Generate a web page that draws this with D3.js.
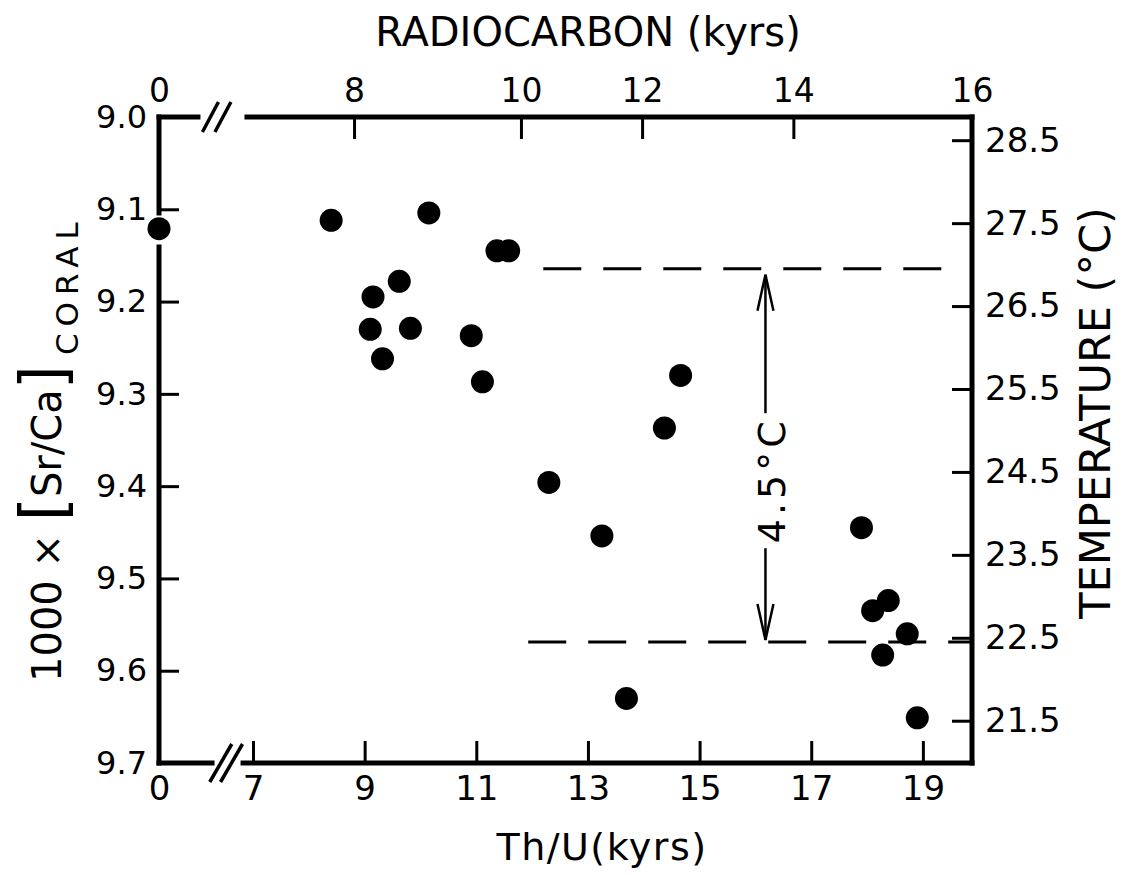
<!DOCTYPE html>
<html>
<head>
<meta charset="utf-8">
<script src="https://cdn.jsdelivr.net/npm/d3@7"></script>
<style>
  body { margin: 0; background: #fff; }
  text { font-family: "DejaVu Sans", sans-serif; fill: #000; }
</style>
</head>
<body>
<script>
// coral Sr/Ca vs age, with temperature scale on the right

// Th/U ages (kyrs) and 1000 x Sr/Ca of each coral sample
var thuAge = [0, 8.40, 10.15, 11.37, 11.58, 9.62, 9.15, 9.10, 9.82, 9.32, 10.91, 11.11,
              14.66, 14.37, 12.30, 13.25, 13.69, 17.90, 18.38, 18.10, 18.72, 18.28, 18.90];
var srCa   = [9.121, 9.112, 9.104, 9.145, 9.145, 9.178, 9.195, 9.230, 9.229, 9.262, 9.237, 9.287,
              9.280, 9.337, 9.396, 9.454, 9.630, 9.445, 9.524, 9.535, 9.560, 9.583, 9.651];

var srTicks = [9.0, 9.1, 9.2, 9.3, 9.4, 9.5, 9.6, 9.7];
var thuTicks = [0, 7, 9, 11, 13, 15, 17, 19];
var tempTicks = [28.5, 27.5, 26.5, 25.5, 24.5, 23.5, 22.5, 21.5];
// radiocarbon ticks and the Th/U age they sit at
var c14Labels = [0, 8, 10, 12, 14, 16];
var c14AtThU  = [0, 8.81, 11.80, 13.97, 16.68, 19.88];

// the two temperature levels (deg C) and where their dashed lines run (Th/U kyrs)
var warmLevel = 26.95, warmSpan = [12.2, 19.67];
var coldLevel = 22.45, coldSpan = [11.93, 19.88];
var arrowAge = 16.18, arrowLabel = "4.5°C", arrowLabelTemp = 24.4;

var svg = d3.select("body").append("svg").attr("width", 1125).attr("height", 875);

// broken x scale: 0 then a gap, then 7..19.9
var x = d3.scaleLinear().domain([0, 7, 19.88]).range([159, 253, 972]);
var y = d3.scaleLinear().domain([9.0, 9.7]).range([117, 763]);
var t = d3.scaleLinear().domain([20.99, 28.78]).range([763, 117]);

function styleAxis(g, size) {
    g.select(".domain").remove();
    g.selectAll(".tick line").attr("stroke", "#000").attr("stroke-width", 3);
    g.selectAll(".tick text").attr("font-size", size).attr("fill", "#000");
}

svg.append("g").attr("transform", "translate(" + x(0) + ",0)")
    .call(d3.axisLeft(y).tickValues(srTicks).tickSize(-20).tickPadding(12).tickFormat(d3.format(".1f")))
    .call(styleAxis, 32);

svg.append("g").attr("transform", "translate(0," + y(9.7) + ")")
    .call(d3.axisBottom(x).tickValues(thuTicks).tickSize(-22).tickPadding(13).tickFormat(d3.format("d")))
    .call(styleAxis, 34);

svg.append("g").attr("transform", "translate(0," + y(9.0) + ")")
    .call(d3.axisTop(x).tickValues(c14AtThU).tickSize(-22).tickPadding(15)
        .tickFormat(function(d, i) { return c14Labels[i] }))
    .call(styleAxis, 33);

svg.append("g").attr("transform", "translate(" + x(19.88) + ",0)")
    .call(d3.axisRight(t).tickValues(tempTicks).tickSize(-20).tickPadding(13).tickFormat(d3.format(".1f")))
    .call(styleAxis, 34);

// frame, with breaks
var frame = svg.append("g").attr("stroke", "#000").attr("stroke-width", 5).attr("stroke-linecap", "square");
function seg(x1, y1, x2, y2) {
    frame.append("line").attr("x1", x1).attr("y1", y1).attr("x2", x2).attr("y2", y2);
}
seg(x(0), y(9.0), x(0), y(9.104));
seg(x(0), y(9.141), x(0), y(9.7));
seg(x(0), y(9.0), x(2.9), y(9.0));
seg(x(6.55), y(9.0), x(19.88), y(9.0));
seg(x(0), y(9.7), x(3.95), y(9.7));
seg(x(6.26), y(9.7), x(19.88), y(9.7));
seg(x(19.88), y(9.0), x(19.88), y(9.7));

// break marks "//"
var brk = svg.append("g").attr("stroke", "#000").attr("stroke-width", 3.5);
[3.83, 4.76].forEach(function(v) {
    brk.append("line").attr("x1", x(v) - 8).attr("y1", y(9.0) + 15).attr("x2", x(v) + 8).attr("y2", y(9.0) - 15);
});
[4.6, 5.4].forEach(function(v) {
    brk.append("line").attr("x1", x(v) - 11).attr("y1", y(9.7) + 19).attr("x2", x(v) + 11).attr("y2", y(9.7) - 19);
});

// dashed levels
svg.append("line").attr("x1", x(warmSpan[0])).attr("x2", x(warmSpan[1]))
    .attr("y1", t(warmLevel)).attr("y2", t(warmLevel))
    .attr("stroke", "#000").attr("stroke-width", 3).attr("stroke-dasharray", "38,22");
svg.append("line").attr("x1", x(coldSpan[0])).attr("x2", x(coldSpan[1]))
    .attr("y1", t(coldLevel)).attr("y2", t(coldLevel))
    .attr("stroke", "#000").attr("stroke-width", 3).attr("stroke-dasharray", "38,22");

// double arrow with label
var ax = x(arrowAge), ly = t(arrowLabelTemp);
var arr = svg.append("g").attr("stroke", "#000").attr("stroke-width", 2.5).attr("fill", "none");
arr.append("line").attr("x1", ax).attr("x2", ax).attr("y1", t(warmLevel) + 6).attr("y2", ly - 67);
arr.append("line").attr("x1", ax).attr("x2", ax).attr("y1", ly + 68).attr("y2", t(coldLevel) - 2);
arr.append("path").attr("d", "M" + (ax - 8) + "," + (t(warmLevel) + 42) + "L" + ax + "," + (t(warmLevel) + 6) + "L" + (ax + 8) + "," + (t(warmLevel) + 42));
arr.append("path").attr("d", "M" + (ax - 8) + "," + (t(coldLevel) - 38) + "L" + ax + "," + (t(coldLevel) - 2) + "L" + (ax + 8) + "," + (t(coldLevel) - 38));
svg.append("text").attr("transform", "translate(" + (ax + 20) + "," + ly + ") rotate(-90)")
    .attr("text-anchor", "middle").attr("font-size", 38).attr("letter-spacing", 4)
    .text(arrowLabel);

// data points
svg.append("g").selectAll("circle")
    .data(thuAge)
    .enter().append("circle")
    .attr("cx", function(d) { return x(d) })
    .attr("cy", function(d, i) { return y(srCa[i]) })
    .attr("r", 11.5)
    .attr("fill", "#000");

// axis titles
svg.append("text").attr("x", 588).attr("y", 46).attr("text-anchor", "middle")
    .attr("font-size", 40).text("RADIOCARBON (kyrs)");
svg.append("text").attr("x", 602).attr("y", 860).attr("text-anchor", "middle")
    .attr("font-size", 38).attr("letter-spacing", 1.5).text("Th/U(kyrs)");
svg.append("text").attr("transform", "translate(1110,413) rotate(-90)").attr("text-anchor", "middle")
    .attr("font-size", 43).text("TEMPERATURE (°C)");

var yl = svg.append("text").attr("transform", "translate(61,682) rotate(-90)").attr("font-size", 40);
yl.append("tspan").text("1000 × ");
yl.append("tspan").attr("font-size", 62).attr("dy", 3).text("[");
yl.append("tspan").attr("dy", -3).text("Sr/Ca");
yl.append("tspan").attr("font-size", 62).attr("dy", 3).text("]");
yl.append("tspan").attr("font-size", 31).attr("dy", 14).attr("dx", 10).attr("letter-spacing", 7).text("CORAL");
</script>
</body>
</html>
